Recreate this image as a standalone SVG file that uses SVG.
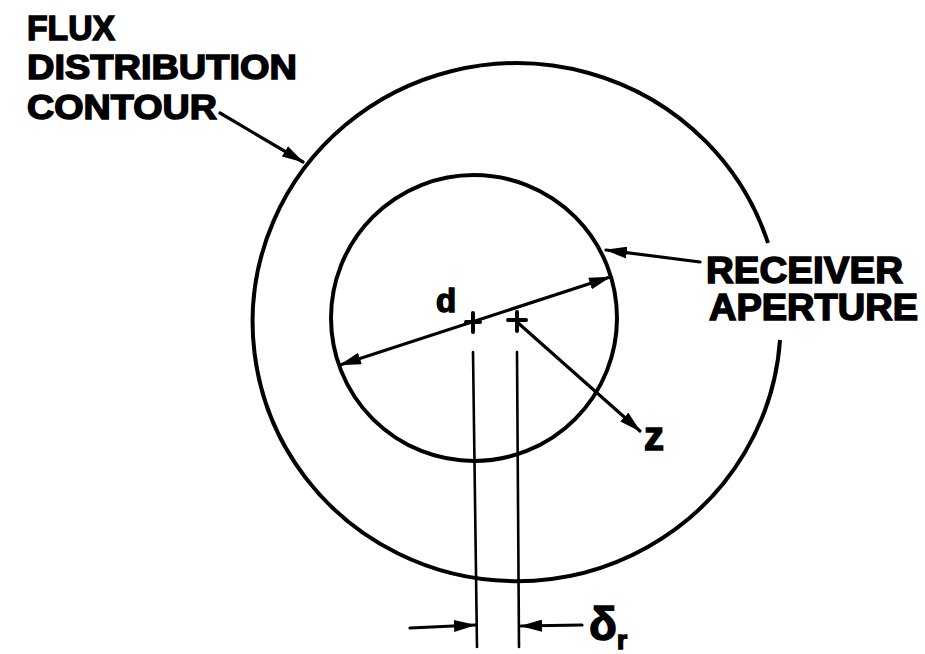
<svg xmlns="http://www.w3.org/2000/svg" width="925" height="654" viewBox="0 0 925 654">
<style>
  .lbl { font-family: "Liberation Sans", Arial, sans-serif; font-weight: bold; fill: #000; stroke: #000; stroke-width: 1.5; }
  .ln { fill: none; stroke: #000; stroke-width: 3.2; stroke-linecap: round; }
  .circ { fill: none; stroke: #000; stroke-width: 4; }
</style>
<defs>
  <marker id="ah" viewBox="0 0 22 12" refX="21" refY="6" markerWidth="22" markerHeight="12" markerUnits="userSpaceOnUse" orient="auto-start-reverse">
    <path d="M0,0 L22,6 L0,12 Z" fill="#000"/>
  </marker>
</defs>
<rect width="925" height="654" fill="#fff"/>

<g id="outer-contour">
  <path class="circ" d="M 780 340 A 264 259 0 1 1 768 243"/>
</g>
<g id="receiver-aperture">
  <circle class="circ" cx="474" cy="318" r="143"/>
</g>
<g id="centers">
  <path class="ln" style="stroke-width:4" d="M 473 313 L 473 332 M 466 322 L 480 322"/>
  <path class="ln" style="stroke-width:4" d="M 517 312 L 517 331 M 508 320 L 526 320"/>
</g>
<g id="labels">
  <text class="lbl" x="27" y="40" font-size="35" textLength="88" lengthAdjust="spacingAndGlyphs">FLUX</text>
  <text class="lbl" x="27" y="79" font-size="35" textLength="270" lengthAdjust="spacingAndGlyphs">DISTRIBUTION</text>
  <text class="lbl" x="27" y="119" font-size="35" textLength="190" lengthAdjust="spacingAndGlyphs">CONTOUR</text>
  <text class="lbl" x="706" y="283" font-size="36" textLength="197" lengthAdjust="spacingAndGlyphs">RECEIVER</text>
  <text class="lbl" x="709" y="320" font-size="36" textLength="209" lengthAdjust="spacingAndGlyphs">APERTURE</text>
  <text class="lbl" x="436" y="312" font-size="33">d</text>
  <text class="lbl" x="644" y="450" font-size="40">z</text>
  <text class="lbl" x="589" y="640" font-size="46">δ<tspan font-size="26" dy="9">r</tspan></text>
</g>
<g id="connectors">
  <path class="ln" d="M 220 113 L 303 162" marker-end="url(#ah)"/>
  <path class="ln" d="M 700 262 L 606 250" marker-end="url(#ah)"/>
  <path class="ln" d="M 340 365 L 610 277" marker-start="url(#ah)" marker-end="url(#ah)"/>
  <path class="ln" d="M 517 322 L 640 431" marker-end="url(#ah)"/>
  <path class="ln" style="stroke-width:2.6" d="M 473 352 L 477 647"/>
  <path class="ln" style="stroke-width:2.6" d="M 517 352 L 519 647"/>
  <path class="ln" d="M 410 628 L 475 625" marker-end="url(#ah)"/>
  <path class="ln" d="M 582 625 L 521 626" marker-end="url(#ah)"/>
</g>
</svg>
